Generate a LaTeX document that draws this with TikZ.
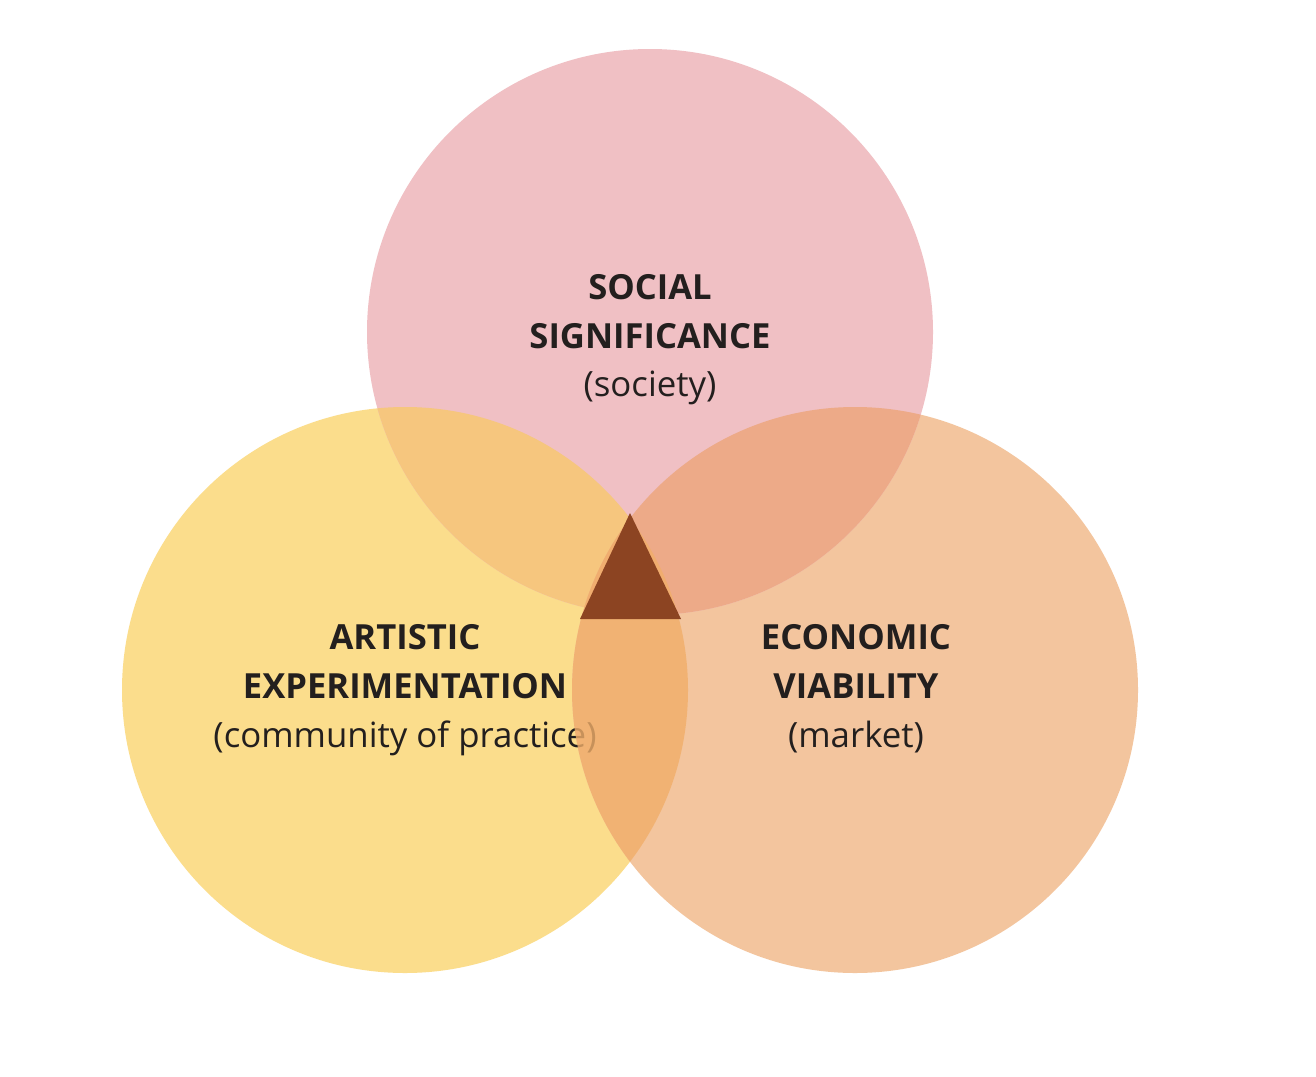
\documentclass[tikz,border=0pt]{standalone}
\usepackage{fontspec}
\setmainfont{Open Sans}
\definecolor{pinkc}{RGB}{240,192,196}
\definecolor{yellowc}{RGB}{251,221,140}
\definecolor{orangec}{RGB}{243,197,158}
\definecolor{pyc}{RGB}{246,198,126}
\definecolor{poc}{RGB}{237,170,136}
\definecolor{yoc}{RGB}{241,174,105}
\definecolor{tric}{RGB}{140,68,34}
\definecolor{txt}{RGB}{35,31,30}
\tikzset{
  title/.style={anchor=base, text=txt, inner sep=0pt, font=\fontsize{34.6}{40}\selectfont\bfseries},
  sub/.style={anchor=base, text=txt, inner sep=0pt, font=\fontsize{34.8}{40}\selectfont},
}
\begin{document}
\begin{tikzpicture}[x=1pt,y=-1pt]
\useasboundingbox (0,0) rectangle (1316,1076);
\fill[white] (0,0) rectangle (1316,1076);
\coordinate (P) at (650,332);
\coordinate (Y) at (405,690);
\coordinate (O) at (855,690);
\def\R{283}
% base circles
\fill[yellowc] (Y) circle (\R);
\fill[orangec] (O) circle (\R);
\fill[pinkc] (P) circle (\R);
% pink overlaps
\begin{scope}
  \clip (P) circle (\R);
  \fill[pyc] (Y) circle (\R);
  \fill[poc] (O) circle (\R);
\end{scope}
% left text (partly under the yellow/orange lens)
\node[title] (a1) at (405,649) {ARTISTIC};
\node[title] (a2) at (405,698) {EXPERIMENTATION};
\node[sub]   (a3) at (405,747) {(community of practice)};
% yellow/orange lens
\begin{scope}
  \clip (Y) circle (\R);
  \fill[yoc, fill opacity=0.8] (O) circle (\R);
\end{scope}
% centre triangle
\coordinate (t1) at (630,513);
\coordinate (t2) at (580,619);
\coordinate (t3) at (681,619);
\fill[tric] (t1) -- (t2) -- (t3) -- cycle;
% other texts
\node[title] (s1) at (650,299) {SOCIAL};
\node[title] (s2) at (650,348) {SIGNIFICANCE};
\node[sub]   (s3) at (650,396) {(society)};
\node[title] (e1) at (856,649) {ECONOMIC};
\node[title] (e2) at (856,698) {VIABILITY};
\node[sub]   (e3) at (856,747) {(market)};
\end{tikzpicture}
\end{document}
